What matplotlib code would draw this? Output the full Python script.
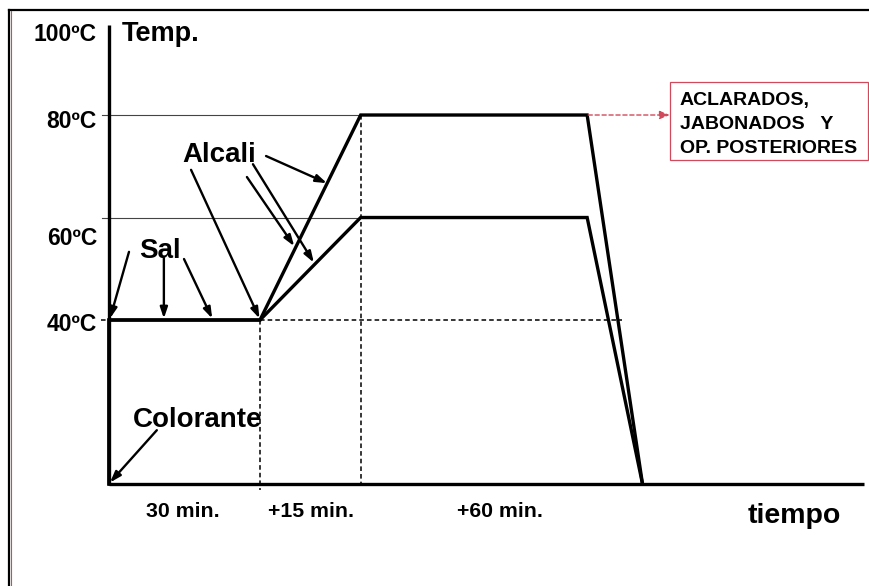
import matplotlib
matplotlib.use('Agg')
import matplotlib.pyplot as plt
from matplotlib.lines import Line2D
from matplotlib.patches import Rectangle

plt.rcParams['font.family'] = ['Liberation Sans', 'DejaVu Sans']
plt.rcParams['font.weight'] = 'bold'

# schematic dyeing curve (x = schematic time units, y = temperature in C)
base = 8                      # schematic start / end level
profile_x = [0, 0, 30, 50, 95, 106]
profile_80 = [base, 40, 40, 80, 80, base]
profile_60 = [base, 40, 40, 60, 60, base]
temp_levels = [40, 60, 80, 100]
temp_labels = ['40ºC', '60ºC', '80ºC', '100ºC']
stage_labels = ['30 min.', '+15 min.', '+60 min.']
stage_centers = [14.7, 40.2, 77.7]
box_lines = ['ACLARADOS,', 'JABONADOS   Y', 'OP. POSTERIORES']

red = '#d04a5c'

fig = plt.figure(figsize=(8.69, 5.86), dpi=100, facecolor='white')
ax = fig.add_axes([0, 0, 1, 1])
ax.set_xlim(-21.66, 151.0)
ax.set_ylim(-11.9, 102.44)
ax.axis('off')

# frame of the slide
fig.add_artist(Line2D([9 / 869, 1], [1 - 10 / 586] * 2, color='black', lw=1.6, transform=fig.transFigure))
fig.add_artist(Line2D([9 / 869] * 2, [0, 1 - 10 / 586], color='black', lw=1.6, transform=fig.transFigure))
fig.add_artist(Line2D([10.8 / 869] * 2, [0, 1 - 11 / 586], color=red, lw=0.8, transform=fig.transFigure))

# thin reference lines at 60 and 80 C
for t in [60, 80]:
    ax.plot([-1.4, 95], [t, t], color='#444444', lw=0.8, zorder=1)

# dashed guides
dash = (0, (3, 2))
ax.plot([-1.6, 0], [40, 40], color='black', lw=1.1, ls=dash)
ax.plot([30, 102], [40, 40], color='black', lw=1.1, ls=dash)
ax.plot([30, 30], [40, base - 1.2], color='black', lw=1.1, ls=dash)
ax.plot([50, 50], [80, base], color='black', lw=1.1, ls=dash)

# axes
ax.plot([0, 0], [base, 97.6], color='black', lw=2.4, solid_capstyle='butt')
ax.plot([0, 150], [base, base], color='black', lw=2.4, solid_capstyle='butt')

# temperature profiles
ax.plot(profile_x, profile_80, color='black', lw=2.4, solid_joinstyle='miter', zorder=3)
ax.plot(profile_x, profile_60, color='black', lw=2.4, solid_joinstyle='miter', zorder=3)

# temperature labels
temp_label_y = [37.8, 54.6, 77.5, 94.4]
for lab, ty in zip(temp_labels, temp_label_y):
    ax.text(-2.4, ty, lab, ha='right', va='baseline', fontsize=16.5, fontweight='bold')

ax.text(2.6, 94.4, 'Temp.', ha='left', va='baseline', fontsize=19.5, fontweight='bold')
ax.text(126.8, 0.4, 'tiempo', ha='left', va='baseline', fontsize=20.5, fontweight='bold')
for lab, cx in zip(stage_labels, stage_centers):
    ax.text(cx, 1.6, lab, ha='center', va='baseline', fontsize=15.3, fontweight='bold')

# annotation labels with arrows
ax.text(6.0, 52.1, 'Sal', ha='left', va='baseline', fontsize=20, fontweight='bold')
ax.text(14.5, 70.8, 'Alcali', ha='left', va='baseline', fontsize=20, fontweight='bold')
ax.text(4.8, 19.1, 'Colorante', ha='left', va='baseline', fontsize=20, fontweight='bold')

arrows = [
    ((3.97, 53.3), (0.2, 40.3)),
    ((10.9, 52.1), (10.9, 40.3)),
    ((14.9, 51.9), (20.5, 40.3)),
    ((16.3, 69.3), (29.9, 40.3)),
    ((31.2, 72.0), (43.3, 66.7)),
    ((27.4, 67.9), (36.8, 54.4)),
    ((28.6, 70.4), (40.7, 51.2)),
    ((9.5, 18.5), (0.2, base + 0.3)),
]
for start, end in arrows:
    ax.annotate('', xy=end, xytext=start,
                arrowprops=dict(arrowstyle='-|>,head_length=0.65,head_width=0.22',
                                color='black', lw=1.7, shrinkA=0, shrinkB=0),
                zorder=4)

# red dashed arrow and box
ax.annotate('', xy=(111.4, 80), xytext=(95.2, 80),
            arrowprops=dict(arrowstyle='-|>,head_length=0.6,head_width=0.25',
                            color=red, lw=1.0, ls=(0, (3, 2)), shrinkA=0, shrinkB=0))
ax.add_patch(Rectangle((111.5, 71.2), 39.3, 15.2, fill=False, edgecolor=red, lw=0.9))
for i, line in enumerate(box_lines):
    ax.text(113.4, 82.0 - i * 4.7, line, ha='left', va='baseline', fontsize=14, fontweight='bold')

fig.savefig('out.png', dpi=100, facecolor='white')
